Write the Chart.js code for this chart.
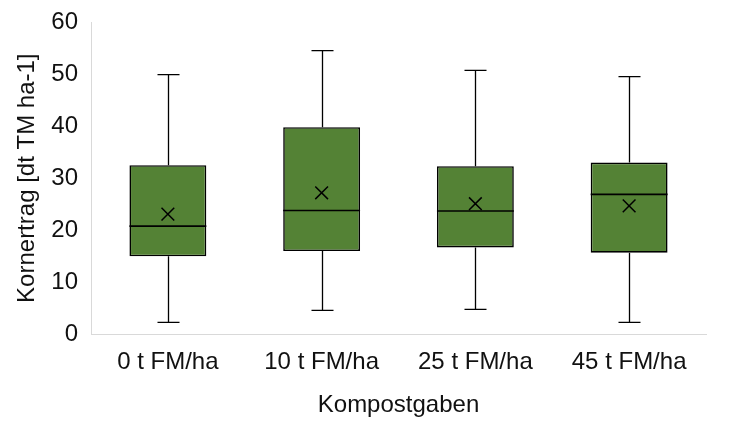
<!DOCTYPE html>
<html>
<head>
<meta charset="utf-8">
<script src="https://cdn.jsdelivr.net/npm/chart.js@4"></script>
<style>
  html, body { margin: 0; padding: 0; background: #fff; }
  #wrap { width: 732px; height: 427px; }
</style>
</head>
<body>
<div id="wrap"><canvas id="boxChart"></canvas></div>
<script>
// Kompostgaben categories and box plot statistics (dt TM ha-1)
const categories = ['0 t FM/ha', '10 t FM/ha', '25 t FM/ha', '45 t FM/ha'];
const minValues = [2.3, 4.6, 4.8, 2.3];
const q1Values = [15.0, 16.0, 16.7, 15.7];
const medianValues = [20.8, 23.8, 23.7, 26.9];
const q3Values = [32.5, 39.8, 32.3, 33.0];
const maxValues = [49.9, 54.5, 50.7, 49.5];
const meanValues = [23.1, 27.2, 25.1, 24.7];
const yTicks = [0, 10, 20, 30, 40, 50, 60];

const boxGreen = '#548235';
const textColor = '#111';
const axisColor = '#d9d9d9';

// whiskers, caps and median lines, drawn through the chart scales
const boxLinesPlugin = {
    id: 'boxLines',
    beforeDatasetsDraw(chart) {
        const { ctx, scales: { x, y } } = chart;
        const capHalf = 11;
        ctx.save();
        ctx.strokeStyle = '#000';
        ctx.lineWidth = 1.3;
        categories.forEach((cat, i) => {
            const px = Math.round(x.getPixelForValue(i)) + 0.5;
            const yMin = y.getPixelForValue(minValues[i]);
            const yQ1 = y.getPixelForValue(q1Values[i]);
            const yQ3 = y.getPixelForValue(q3Values[i]);
            const yMax = y.getPixelForValue(maxValues[i]);
            ctx.beginPath();
            ctx.moveTo(px, yQ3); ctx.lineTo(px, yMax);
            ctx.moveTo(px - capHalf, yMax); ctx.lineTo(px + capHalf, yMax);
            ctx.moveTo(px, yQ1); ctx.lineTo(px, yMin);
            ctx.moveTo(px - capHalf, yMin); ctx.lineTo(px + capHalf, yMin);
            ctx.stroke();
        });
        ctx.restore();
    },
    afterDatasetDraw(chart, args) {
        if (args.index !== 0) return;
        const { ctx, scales: { y } } = chart;
        const bars = chart.getDatasetMeta(0).data;
        ctx.save();
        ctx.strokeStyle = '#000';
        ctx.lineWidth = 1.6;
        bars.forEach((bar, i) => {
            const py = y.getPixelForValue(medianValues[i]);
            ctx.beginPath();
            ctx.moveTo(bar.x - bar.width / 2, py);
            ctx.lineTo(bar.x + bar.width / 2, py);
            ctx.stroke();
        });
        ctx.restore();
    }
};

Chart.defaults.font.family = "'Liberation Sans', Arial, sans-serif";
Chart.defaults.font.size = 24;
Chart.defaults.color = textColor;

new Chart(document.getElementById('boxChart'), {
    type: 'bar',
    data: {
        labels: categories,
        datasets: [
            {
                label: 'Box (Q1-Q3)',
                data: q1Values.map((v, i) => [v, q3Values[i]]),
                backgroundColor: boxGreen,
                borderColor: '#000',
                borderWidth: 1.6,
                borderSkipped: false,
                barPercentage: 0.5,
                categoryPercentage: 1.0,
                order: 2
            },
            {
                type: 'line',
                label: 'Mittelwert',
                data: meanValues,
                showLine: false,
                pointStyle: 'crossRot',
                pointRadius: 9,
                pointBorderColor: '#000',
                pointBorderWidth: 1.5,
                order: 1
            }
        ]
    },
    options: {
        responsive: true,
        maintainAspectRatio: false,
        animation: false,
        layout: {
            padding: { top: 22, right: 26, bottom: 7, left: 13 }
        },
        plugins: {
            legend: { display: false },
            tooltip: { enabled: false }
        },
        scales: {
            x: {
                grid: { display: false, drawTicks: false },
                border: { color: axisColor, width: 1 },
                ticks: { padding: 14, color: textColor },
                title: {
                    display: true,
                    text: 'Kompostgaben',
                    color: textColor,
                    padding: { top: 0, bottom: 0 }
                }
            },
            y: {
                min: 0,
                max: 60,
                afterBuildTicks: axis => {
                    axis.ticks = yTicks.map(v => ({ value: v }));
                },
                afterFit: axis => {
                    axis.width = 78;
                    axis.paddingTop = 0;
                },
                grid: { display: false, drawTicks: false },
                border: { color: axisColor, width: 1 },
                ticks: { padding: 13, color: textColor },
                title: {
                    display: true,
                    text: 'Kornertrag [dt TM ha-1]',
                    color: textColor,
                    padding: { top: 0, bottom: 0 }
                }
            }
        }
    },
    plugins: [boxLinesPlugin]
});
</script>
</body>
</html>
